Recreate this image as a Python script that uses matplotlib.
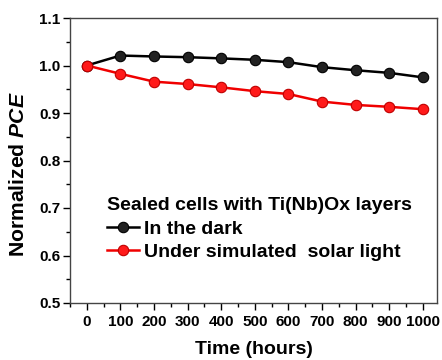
import matplotlib
matplotlib.use("Agg")
import matplotlib.pyplot as plt
from matplotlib.ticker import MultipleLocator

plt.rcParams["font.family"] = "Liberation Sans"
plt.rcParams["font.weight"] = "bold"
plt.rcParams["mathtext.fontset"] = "custom"
plt.rcParams["mathtext.it"] = "Liberation Sans:bold:italic"
plt.rcParams["mathtext.rm"] = "Liberation Sans:bold"

# Data
hours = [0, 100, 200, 300, 400, 500, 600, 700, 800, 900, 1000]
pce_dark = [1.000, 1.021, 1.019, 1.0175, 1.015, 1.012, 1.007, 0.9965, 0.990, 0.9845, 0.975]
pce_light = [1.000, 0.9825, 0.966, 0.961, 0.954, 0.946, 0.940, 0.924, 0.917, 0.913, 0.908]
labels = ["In the dark", "Under simulated  solar light"]
legend_title = "Sealed cells with Ti(Nb)Ox layers"

fig = plt.figure(figsize=(4.42, 3.6), dpi=100)
ax = fig.add_axes([70 / 442, 57 / 360, 367 / 442, 285 / 360])

ax.plot(hours, pce_dark, color="black", lw=1.8, marker="o", ms=7.5,
        mfc="#222222", mec="black", mew=0.8, label=labels[0])
ax.plot(hours, pce_light, color="#f00000", lw=1.8, marker="o", ms=7.5,
        mfc="#ff1a1a", mec="#c00000", mew=0.8, label=labels[1])

ax.set_xlim(-50, 1042)
ax.set_ylim(0.5, 1.1)
ax.xaxis.set_major_locator(MultipleLocator(100))
ax.xaxis.set_minor_locator(MultipleLocator(50))
ax.yaxis.set_major_locator(MultipleLocator(0.1))
ax.yaxis.set_minor_locator(MultipleLocator(0.05))
ax.yaxis.set_major_formatter(plt.FormatStrFormatter("%.1f"))
ax.tick_params(which="major", direction="out", length=5, width=1, labelsize=11)
ax.tick_params(axis="y", which="major", pad=2)
ax.tick_params(which="minor", direction="out", length=3, width=1)
for s in ax.spines.values():
    s.set_color("#444444")
    s.set_linewidth(1.0)

ax.set_xlabel("Time (hours)", fontsize=14, fontweight="bold", labelpad=9)
ax.set_ylabel("Normalized $PCE$", fontsize=15.2, fontweight="bold")
ax.yaxis.set_label_coords(-0.114, 0.453)

leg = ax.legend(title=legend_title, loc="lower left", bbox_to_anchor=(0.08, 0.12),
                frameon=False, fontsize=14, title_fontsize=14,
                handlelength=1.65, handletextpad=0.25, labelspacing=0.3,
                borderaxespad=0)
leg.get_title().set_fontweight("bold")
leg._legend_box.align = "left"

fig.savefig("out.png", dpi=100)
